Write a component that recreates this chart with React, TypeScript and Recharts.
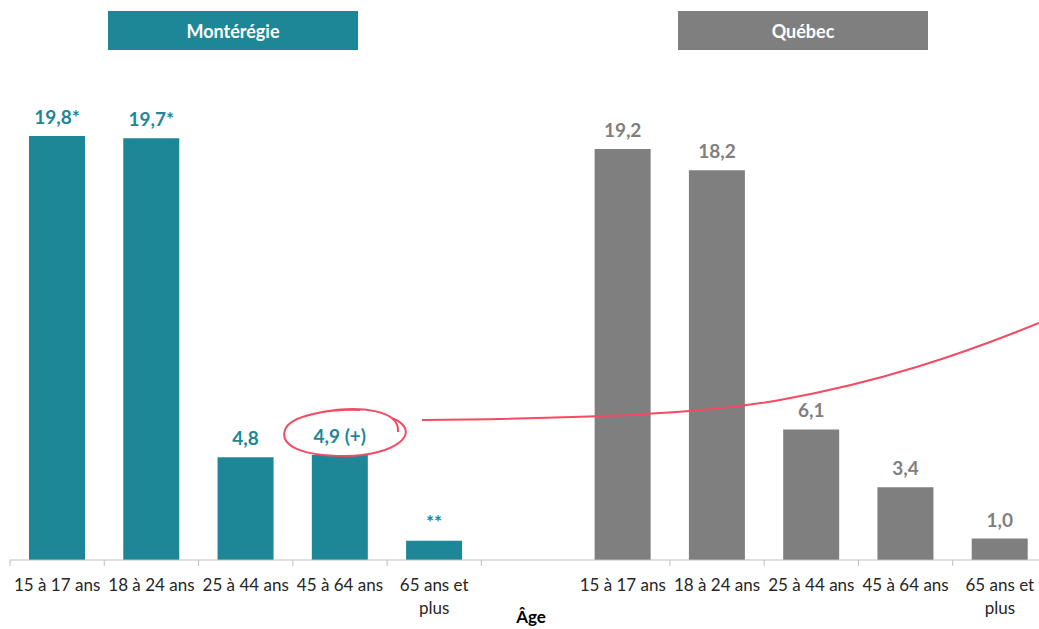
import { Bar, BarChart, LabelList, XAxis, YAxis } from "recharts";

const ages = ["15 à 17 ans", "18 à 24 ans", "25 à 44 ans", "45 à 64 ans", "65 ans et plus"];
const monteregie = [19.8, 19.7, 4.8, 4.9, 0.9];
const monteregieLabels = ["19,8*", "19,7*", "4,8", "4,9 (+)", "**"];
const quebec = [19.2, 18.2, 6.1, 3.4, 1.0];
const quebecLabels = ["19,2", "18,2", "6,1", "3,4", "1,0"];

const TEAL = "#1e8797";
const GREY = "#7f7f7f";
const FONT = "Lato, 'Noto Sans', sans-serif";

const CHART_W = 1060;
const CHART_H = 629;
const AXIS_H = 30;
const MARGIN = { top: 89, right: 13, bottom: 39, left: 10 };
const AXIS_Y = CHART_H - MARGIN.bottom - AXIS_H;
const BAND = (CHART_W - MARGIN.left - MARGIN.right) / 11;

const data = [
  ...ages.map((age, i) => ({ age, m: monteregie[i], mLabel: monteregieLabels[i] })),
  { age: "" },
  ...ages.map((age, i) => ({ age, q: quebec[i], qLabel: quebecLabels[i] }))
];

function AgeTick(props: any) {
  const { x, payload, index } = props;
  const label: string = payload.value || "";
  const lines = label === "65 ans et plus" ? ["65 ans et", "plus"] : [label];
  const left = x - BAND / 2;
  return (
    <g>
      {index !== 6 && (
        <line x1={left} x2={left} y1={AXIS_Y} y2={AXIS_Y + 6} stroke="#bfbfbf" />
      )}
      <text textAnchor="middle" fontFamily={FONT} fontSize={17} fill="#262626">
        {lines.map((l, i) => (
          <tspan key={i} x={x} y={AXIS_Y + 31 + i * 23}>
            {l}
          </tspan>
        ))}
      </text>
    </g>
  );
}

function Header({ text, left, color }: { text: string; left: number; color: string }) {
  return (
    <div
      style={{
        position: "absolute",
        left,
        top: 11,
        width: 250,
        height: 39,
        background: color,
        color: "#fff",
        fontFamily: FONT,
        fontWeight: 700,
        fontSize: 18,
        display: "flex",
        alignItems: "center",
        justifyContent: "center"
      }}
    >
      {text}
    </div>
  );
}

export default function App() {
  return (
    <div
      style={{
        position: "absolute",
        left: 0,
        top: 0,
        width: 1039,
        height: 629,
        overflow: "hidden",
        background: "#fff"
      }}
    >
      <BarChart width={CHART_W} height={CHART_H} data={data} margin={MARGIN}>
        <XAxis
          dataKey="age"
          interval={0}
          height={AXIS_H}
          tickLine={false}
          axisLine={{ stroke: "#bfbfbf" }}
          tick={<AgeTick />}
        />
        <YAxis hide domain={[0, 22]} />
        <Bar dataKey="m" stackId="a" fill={TEAL} barSize={56} isAnimationActive={false}>
          <LabelList
            dataKey="mLabel"
            position="top"
            offset={12}
            fill={TEAL}
            fontFamily={FONT}
            fontWeight={700}
            fontSize={19}
          />
        </Bar>
        <Bar dataKey="q" stackId="a" fill={GREY} barSize={56} isAnimationActive={false}>
          <LabelList
            dataKey="qLabel"
            position="top"
            offset={12}
            fill={GREY}
            fontFamily={FONT}
            fontWeight={700}
            fontSize={19}
          />
        </Bar>
      </BarChart>
      <Header text="Montérégie" left={108} color={TEAL} />
      <Header text="Québec" left={678} color={GREY} />
      <div
        style={{
          position: "absolute",
          left: 500,
          top: 606,
          width: 62,
          textAlign: "center",
          fontFamily: FONT,
          fontWeight: 700,
          fontSize: 17,
          color: "#000"
        }}
      >
        Âge
      </div>
      <svg
        width={1039}
        height={629}
        style={{ position: "absolute", left: 0, top: 0, pointerEvents: "none" }}
      >
        <path
          d="M 322 412 C 360 405, 400 410, 398 432 M 392 418 C 425 432, 395 456, 345 456 C 300 456, 280 445, 285 430 C 290 415, 330 409, 360 410"
          fill="none"
          stroke="#f24b63"
          strokeWidth={2}
        />
        <path
          d="M 422 420 C 600 418, 700 414, 780 400 C 880 382, 960 355, 1039 323"
          fill="none"
          stroke="#f24b63"
          strokeWidth={2}
        />
      </svg>
    </div>
  );
}
